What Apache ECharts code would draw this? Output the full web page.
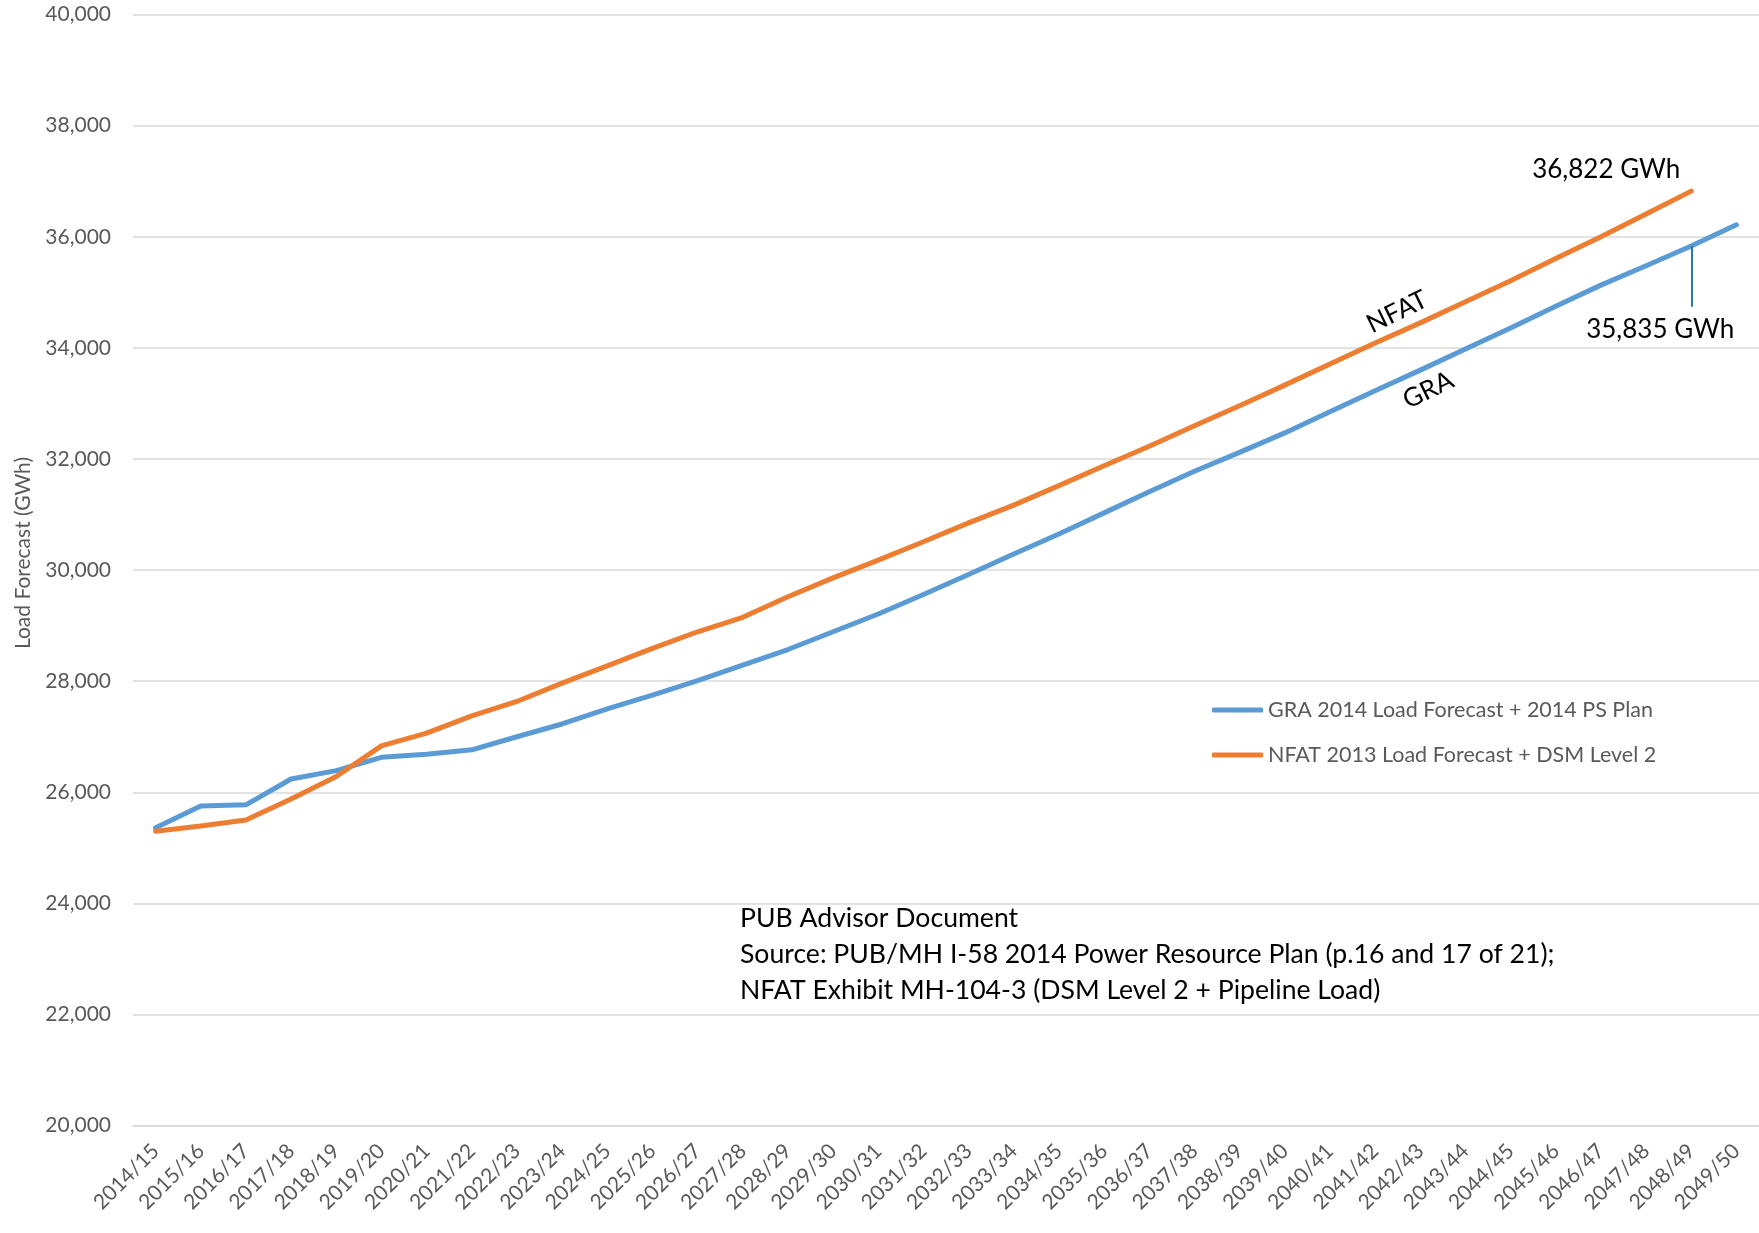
<!DOCTYPE html>
<html>
<head>
<meta charset="utf-8">
<title>Load Forecast (GWh)</title>
<script src="https://cdn.jsdelivr.net/npm/echarts@6/dist/echarts.min.js"></script>
<style>
  html, body { margin: 0; padding: 0; background: #ffffff; }
  #chart { width: 1759px; height: 1233px; }
</style>
</head>
<body>
<div id="chart"></div>
<script>
// Fiscal years on the category axis
const categories = [
  '2014/15','2015/16','2016/17','2017/18','2018/19','2019/20','2020/21','2021/22','2022/23',
  '2023/24','2024/25','2025/26','2026/27','2027/28','2028/29','2029/30','2030/31','2031/32',
  '2032/33','2033/34','2034/35','2035/36','2036/37','2037/38','2038/39','2039/40','2040/41',
  '2041/42','2042/43','2043/44','2044/45','2045/46','2046/47','2047/48','2048/49','2049/50'
];

// GRA 2014 Load Forecast + 2014 PS Plan (GWh)
const graLoad = [
  25360, 25755, 25775, 26240, 26390, 26630, 26685, 26765, 27000,
  27230, 27500, 27750, 28010, 28290, 28570, 28890, 29210, 29560,
  29920, 30290, 30650, 31030, 31410, 31780, 32120, 32470, 32850,
  33230, 33600, 33980, 34360, 34750, 35130, 35480, 35835, 36215
];

// NFAT 2013 Load Forecast + DSM Level 2 (GWh), ends at 2048/49
const nfatLoad = [
  25300, 25395, 25500, 25880, 26285, 26835, 27065, 27375, 27635,
  27965, 28275, 28590, 28890, 29150, 29520, 29860, 30180, 30510,
  30850, 31170, 31520, 31880, 32230, 32600, 32960, 33330, 33710,
  34090, 34450, 34830, 35210, 35610, 36000, 36410, 36822
];

const seriesNames = [
  'GRA 2014 Load Forecast + 2014 PS Plan',
  'NFAT 2013 Load Forecast + DSM Level 2'
];

// Year whose values are called out in GWh
const calloutYear = '2048/49';
const calloutIndex = categories.indexOf(calloutYear);
// Lower end of the leader line under the GRA call-out
const leaderBottom = 34740;

const sourceLines = [
  'PUB Advisor Document',
  'Source: PUB/MH I-58 2014 Power Resource Plan (p.16 and 17 of 21);',
  'NFAT Exhibit MH-104-3 (DSM Level 2 + Pipeline Load)'
];

const FONT = 'Lato, "Open Sans", sans-serif';
const GREY = '#595959';
const BLUE = '#5B9BD5';
const ORANGE = '#ED7D31';

const fmt = v => Number(v).toLocaleString('en-US');

const chart = echarts.init(document.getElementById('chart'), null, { renderer: 'canvas' });

chart.setOption({
  animation: false,
  backgroundColor: '#ffffff',
  grid: { left: 133, top: 14.6, width: 1629, height: 1111, containLabel: false },
  legend: {
    orient: 'vertical',
    left: 1207,
    top: 694,
    itemWidth: 51,
    itemHeight: 5,
    itemGap: 23,
    icon: 'roundRect',
    textStyle: { fontFamily: FONT, fontSize: 21.5, color: GREY },
    data: seriesNames
  },
  xAxis: {
    type: 'category',
    data: categories,
    boundaryGap: true,
    axisLine: { show: true, lineStyle: { color: '#D9D9D9', width: 1.5 } },
    axisTick: { show: false },
    splitLine: { show: false },
    axisLabel: {
      interval: 0, rotate: 45, margin: 22,
      fontFamily: FONT, fontSize: 21, color: GREY
    }
  },
  yAxis: {
    type: 'value',
    min: 20000, max: 40000, interval: 2000,
    axisLine: { show: false },
    axisTick: { show: false },
    splitLine: { show: true, lineStyle: { color: '#D9D9D9', width: 1.5 } },
    axisLabel: {
      margin: 22, formatter: v => fmt(v),
      fontFamily: FONT, fontSize: 21, color: GREY
    }
  },
  series: [
    {
      name: seriesNames[0],
      type: 'line',
      data: graLoad,
      symbol: 'none',
      color: BLUE,
      lineStyle: { color: BLUE, width: 5, cap: 'round', join: 'round' },
      z: 3,
      markLine: {
        silent: true,
        symbol: 'none',
        label: { show: false },
        lineStyle: { color: '#2E75B6', width: 2, type: 'solid' },
        data: [[
          { coord: [calloutYear, graLoad[calloutIndex]] },
          { coord: [calloutYear, leaderBottom] }
        ]]
      }
    },
    {
      name: seriesNames[1],
      type: 'line',
      data: nfatLoad,
      symbol: 'none',
      color: ORANGE,
      lineStyle: { color: ORANGE, width: 5, cap: 'round', join: 'round' },
      z: 4
    }
  ]
});

// Annotations anchored to data points through the chart's own scales
const px = (cat, val) => chart.convertToPixel({ gridIndex: 0 }, [cat, val]);
const nfatAnchor = px('2041/42', nfatLoad[categories.indexOf('2041/42')]);
const graAnchor = px('2042/43', graLoad[categories.indexOf('2042/43')]);
const nfatEnd = px(calloutYear, nfatLoad[calloutIndex]);
const graEnd = px(calloutYear, graLoad[calloutIndex]);
const tilt = 26 * Math.PI / 180;

const textStyle = (text, size, fill) => ({
  text, font: size + 'px ' + FONT, fill, align: 'center', verticalAlign: 'middle'
});

chart.setOption({
  graphic: [
    { type: 'text', x: nfatAnchor[0] + 22, y: nfatAnchor[1] - 31, rotation: tilt,
      style: textStyle('NFAT', 26, '#000000') },
    { type: 'text', x: graAnchor[0] + 8, y: graAnchor[1] + 20, rotation: tilt,
      style: textStyle('GRA', 26, '#000000') },
    { type: 'text', x: nfatEnd[0] - 85, y: nfatEnd[1] - 22,
      style: textStyle(fmt(nfatLoad[calloutIndex]) + ' GWh', 26, '#000000') },
    { type: 'text', x: graEnd[0] - 31, y: graEnd[1] + 84,
      style: textStyle(fmt(graLoad[calloutIndex]) + ' GWh', 26, '#000000') },
    { type: 'text', x: 23, y: 553, rotation: Math.PI / 2,
      style: textStyle('Load Forecast (GWh)', 21, GREY) },
    {
      type: 'text', x: 740, y: 900,
      style: {
        text: sourceLines.join('\n'), font: '26.6px ' + FONT, fill: '#000000',
        lineHeight: 36, align: 'left', verticalAlign: 'top'
      }
    }
  ]
});
</script>
</body>
</html>
